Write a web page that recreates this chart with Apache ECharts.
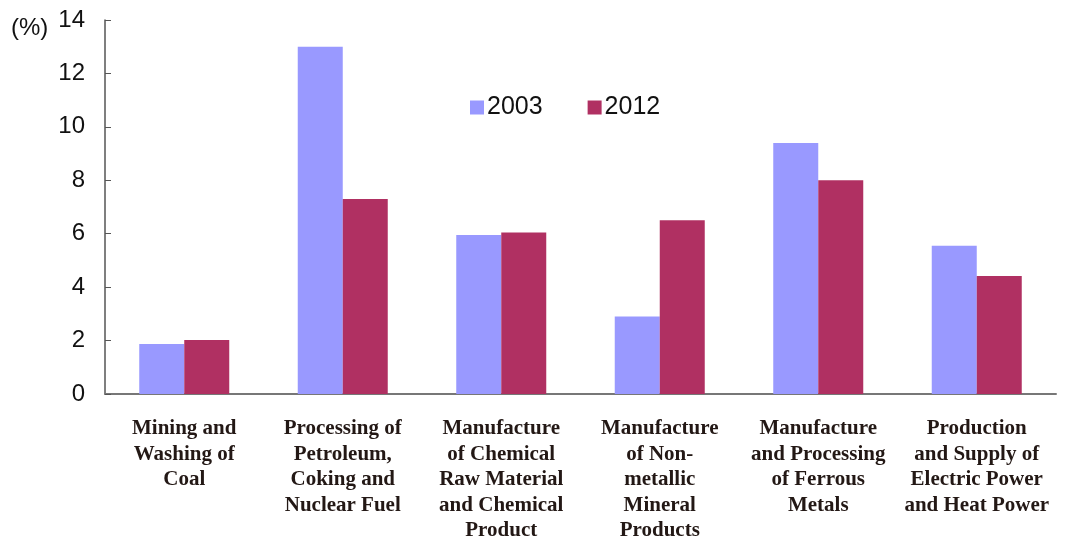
<!DOCTYPE html>
<html lang="en">
<head>
    <meta charset="UTF-8">
    <title>Energy intensive industries share</title>
    <script src="https://cdn.jsdelivr.net/npm/echarts@6/dist/echarts.min.js"></script>
</head>
<body style="margin:0;">

<div id="wrap" style="width: 1080px; height: 537px;"></div>

<script>
    var categories = [
        "Mining and\nWashing of\nCoal",
        "Processing of\nPetroleum,\nCoking and\nNuclear Fuel",
        "Manufacture\nof Chemical\nRaw Material\nand Chemical\nProduct",
        "Manufacture\nof Non-\nmetallic\nMineral\nProducts",
        "Manufacture\nand Processing\nof Ferrous\nMetals",
        "Production\nand Supply of\nElectric Power\nand Heat Power"
    ];
    var values2003 = [1.87, 13.0, 5.95, 2.9, 9.4, 5.55];
    var values2012 = [2.02, 7.3, 6.05, 6.5, 8.0, 4.42];

    var myChart = echarts.init(document.getElementById("wrap"));

    var option = {
        animation: false,
        backgroundColor: '#ffffff',
        legend: {
            left: 465,
            top: 90,
            itemWidth: 14,
            itemHeight: 14,
            itemGap: 45,
            icon: 'rect',
            textStyle: {
                fontFamily: 'Liberation Sans, Arial, sans-serif',
                fontSize: 25,
                color: '#111',
                padding: [0, 0, 0, -2]
            },
            data: ['2003', '2012']
        },
        graphic: [{
            type: 'text',
            left: 11,
            top: 16,
            style: {
                text: '(%)',
                font: '24px "Liberation Sans", Arial, sans-serif',
                fill: '#111'
            }
        }],
        grid: {
            left: 105,
            right: 24,
            top: 20,
            bottom: 143,
            outerBoundsMode: 'none'
        },
        xAxis: {
            type: 'category',
            data: categories,
            axisLine: {
                lineStyle: {color: '#777', width: 2}
            },
            axisTick: {
                inside: true,
                length: 8,
                lineStyle: {color: '#333', width: 1}
            },
            axisLabel: {
                interval: 0,
                margin: 22,
                lineHeight: 25.5,
                fontFamily: 'Liberation Serif, Times New Roman, serif',
                fontWeight: 'bold',
                fontSize: 21,
                color: '#231815'
            }
        },
        yAxis: {
            type: 'value',
            min: 0,
            max: 14,
            interval: 2,
            splitLine: {show: false},
            axisLine: {
                show: true,
                lineStyle: {color: '#555', width: 1.5}
            },
            axisTick: {
                show: true,
                inside: true,
                length: 6,
                lineStyle: {color: '#555'}
            },
            axisLabel: {
                margin: 20,
                fontFamily: 'Liberation Sans, Arial, sans-serif',
                fontSize: 24,
                color: '#111'
            }
        },
        series: [{
            name: '2003',
            type: 'bar',
            data: values2003,
            barWidth: 45,
            barGap: '0%',
            itemStyle: {color: '#9999ff'}
        }, {
            name: '2012',
            type: 'bar',
            data: values2012,
            barWidth: 45,
            barGap: '0%',
            itemStyle: {color: '#b03062'}
        }]
    };

    myChart.setOption(option);
</script>
</body>
</html>
